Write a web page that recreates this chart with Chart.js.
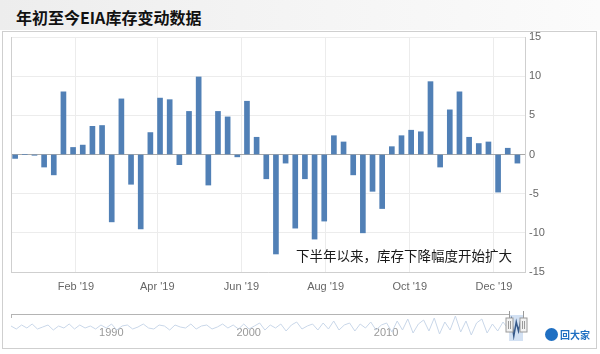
<!DOCTYPE html>
<html>
<head>
<meta charset="utf-8">
<script src="https://cdn.jsdelivr.net/npm/chart.js@4"></script>
<style>
    body { margin: 0; width: 600px; height: 354px; background: #fff; position: relative; overflow: hidden; }
    #header {
        position: absolute; left: 0; top: 0; width: 600px; height: 30px;
        background: linear-gradient(to right, #ededed 0%, #f3f3f3 40%, #fbfbfb 100%);
    }
    #header span {
        position: absolute; left: 16px; top: 5px;
        font: bold 16px "Noto Sans CJK SC", sans-serif; color: #111;
    }
    #frame {
        position: absolute; left: 2px; top: 31px; width: 595px; height: 318px;
        border: 1px solid #cfcfcf; box-sizing: border-box;
    }
    #main { position: absolute; left: 0; top: 0; }
    #nav { position: absolute; left: 0; top: 305px; }
    #logo { position: absolute; left: 545px; top: 327px; width: 48px; height: 16px; white-space: nowrap; }
    #logo .dot { position: absolute; left: 0; top: 1px; width: 13px; height: 13px; border-radius: 50%; background: #1f6fc2; }
    #logo .txt { position: absolute; left: 15px; top: 0; font: bold 10px "Noto Sans CJK SC", sans-serif; color: #1f6fc2; }
</style>
</head>
<body>
<div id="header"><span>年初至今EIA库存变动数据</span></div>
<div id="frame"></div>
<canvas id="main" width="600" height="300"></canvas>
<canvas id="nav" width="600" height="45"></canvas>
<div id="logo"><div class="dot"></div><div class="txt">回大家</div></div>
<script>
// ===================== DADOS =====================
const weekDates = [
    "2018-12-19", "2018-12-26", "2019-01-02", "2019-01-09", "2019-01-16", "2019-01-23", "2019-01-30",
    "2019-02-06", "2019-02-13", "2019-02-20", "2019-02-27", "2019-03-06", "2019-03-13", "2019-03-20",
    "2019-03-27", "2019-04-03", "2019-04-10", "2019-04-17", "2019-04-24", "2019-05-01", "2019-05-08",
    "2019-05-15", "2019-05-22", "2019-05-29", "2019-06-05", "2019-06-12", "2019-06-19", "2019-06-26",
    "2019-07-03", "2019-07-10", "2019-07-17", "2019-07-24", "2019-07-31", "2019-08-07", "2019-08-14",
    "2019-08-21", "2019-08-28", "2019-09-04", "2019-09-11", "2019-09-18", "2019-09-25", "2019-10-02",
    "2019-10-09", "2019-10-16", "2019-10-23", "2019-10-30", "2019-11-06", "2019-11-13", "2019-11-20",
    "2019-11-27", "2019-12-04", "2019-12-11", "2019-12-18"
];
const stockChange = [
    -0.5, 0, -0.1, -1.6, -2.6, 8.0, 0.9,
    1.2, 3.6, 3.7, -8.6, 7.1, -3.8, -9.5,
    2.8, 7.2, 7.0, -1.3, 5.5, 9.9, -3.9,
    5.5, 4.8, -0.3, 6.8, 2.2, -3.1, -12.7,
    -1.1, -9.4, -3.1, -10.8, -8.5, 2.4, 1.6,
    -2.6, -10.0, -4.7, -6.9, 1.0, 2.4, 3.1,
    2.9, 9.3, -1.6, 5.7, 8.0, 2.2, 1.4,
    1.6, -4.8, 0.8, -1.1
];
const tickDates = ["2019-02-01", "2019-04-01", "2019-06-01", "2019-08-01", "2019-10-01", "2019-12-01"];
const tickLabels = ["Feb '19", "Apr '19", "Jun '19", "Aug '19", "Oct '19", "Dec '19"];
const yTicks = [-15, -10, -5, 0, 5, 10, 15];
const note = "下半年以来，库存下降幅度开始扩大";

// navegador (histórico resumido)
const navStart = 1982.7;
const navEnd = 2018.9;
const navHistory = [
    1, -2, 2, -1, 3, -2, 0, 2, -3, 1, -1, 3, -2, 2, -1, 1, -2,
    2, -1, 3, -3, 1, 2, -2, 0, 3, -1, -2, 2, 1, -3, 2, 0, -1, 3, -2, 1, 2, -2, 0, 3, -1, 2, -2,
    3, -2, 1, 4, -3, 2, -1, 3, -4, 2, 5, -2, 1, 3, -3, 4, -2, 6, -3, 2, 4, -4, 3, -1, 5, -3, 2,
    4, -5, 6, -3, 8, -6, 3, 7, -4, 9, -7, 5, -3, 11, -5, 6, -8, 4, 8, -6, 3, -4, 5, -2
];
const navWindowYears = [2018.96, 2019.12, 2019.3, 2019.48, 2019.64, 2019.8, 2019.97];
const navWindowValues = [1, 8, -9, 5, -4, 6, 0];
const navYears = [1990, 2000, 2010];
const navRange = [2018.96, 2019.97];

// ===================== GRÁFICO PRINCIPAL =====================
Chart.defaults.font.family = "'Liberation Sans', Arial, sans-serif";
Chart.defaults.font.size = 11;
Chart.defaults.color = "#666";

const dia = d => (Date.parse(d) - Date.parse("2019-01-01")) / 86400000;

const plotFrame = {
    id: "plotFrame",
    beforeDatasetsDraw(chart) {
        const a = chart.chartArea, ctx = chart.ctx;
        ctx.save();
        ctx.strokeStyle = "#cfcfcf";
        ctx.lineWidth = 1;
        ctx.beginPath();
        ctx.moveTo(a.left + 0.5, a.top);
        ctx.lineTo(a.left + 0.5, a.bottom);
        ctx.stroke();
        ctx.restore();
    },
    afterDraw(chart) {
        const a = chart.chartArea, ctx = chart.ctx;
        ctx.save();
        ctx.font = "13.5px 'Noto Sans CJK SC', sans-serif";
        ctx.fillStyle = "#1a1a1a";
        ctx.textBaseline = "middle";
        ctx.textAlign = "right";
        ctx.fillText(note, a.right - 13, a.bottom - 16);
        ctx.restore();
    }
};

new Chart(document.getElementById("main").getContext("2d"), {
    type: "bar",
    data: {
        datasets: [{
            data: weekDates.map((d, i) => ({ x: dia(d), y: stockChange[i] })),
            backgroundColor: "#5180b6",
            barThickness: 5,
            borderWidth: 0
        }]
    },
    options: {
        responsive: false,
        animation: false,
        events: [],
        layout: { padding: { left: 11, top: 37, right: 45, bottom: 0 } },
        plugins: { legend: { display: false }, tooltip: { enabled: false } },
        scales: {
            x: {
                type: "linear",
                offset: false,
                min: -16,
                max: 356.5,
                afterBuildTicks: s => { s.ticks = tickDates.map(d => ({ value: dia(d) })); },
                afterFit: s => { s.height = 28; },
                grid: { color: "#ececec", offset: false, drawTicks: false },
                border: { color: "#cfcfcf" },
                ticks: {
                    padding: 8,
                    maxRotation: 0,
                    callback: (v) => tickLabels[tickDates.findIndex(d => dia(d) === v)]
                }
            },
            y: {
                position: "right",
                min: -15,
                max: 15,
                afterBuildTicks: s => { s.ticks = yTicks.map(v => ({ value: v })); },
                afterFit: s => { s.width = 30; },
                grid: {
                    color: c => c.tick && c.tick.value === 0 ? "#a8a8a8" : "#ececec",
                    drawTicks: false
                },
                border: { color: "#cfcfcf" },
                ticks: { padding: 4, callback: v => String(v) }
            }
        }
    },
    plugins: [plotFrame]
});

// ===================== NAVEGADOR =====================
const navStep = (navEnd - navStart) / (navHistory.length - 1);

const navDecor = {
    id: "navDecor",
    beforeDatasetsDraw(chart) {
        const a = chart.chartArea, ctx = chart.ctx, x = chart.scales.x;
        const l = x.getPixelForValue(navRange[0]), r = x.getPixelForValue(navRange[1]);
        ctx.save();
        ctx.fillStyle = "rgba(130,170,220,0.35)";
        ctx.fillRect(l, a.top + 1, r - l, a.bottom - a.top);
        ctx.strokeStyle = "#b4b4b4";
        ctx.lineWidth = 1;
        ctx.beginPath();
        ctx.moveTo(a.left, a.top + 0.5);
        ctx.lineTo(l, a.top + 0.5);
        ctx.moveTo(a.left + 0.5, a.top);
        ctx.lineTo(a.left + 0.5, a.top + 4);
        ctx.stroke();
        ctx.fillStyle = "#999";
        ctx.font = "11px 'Liberation Sans', Arial, sans-serif";
        ctx.textAlign = "center";
        ctx.textBaseline = "middle";
        navYears.forEach(y => ctx.fillText(String(y), x.getPixelForValue(y), a.top + 19));
        ctx.restore();
    },
    afterDraw(chart) {
        const a = chart.chartArea, ctx = chart.ctx, x = chart.scales.x;
        ctx.save();
        navRange.forEach(v => {
            const px = Math.round(x.getPixelForValue(v)) + 0.5;
            ctx.strokeStyle = "#9a9a9a";
            ctx.beginPath();
            ctx.moveTo(px, a.top - 3);
            ctx.lineTo(px, a.top + 4);
            ctx.stroke();
            ctx.fillStyle = "#f2f2f2";
            ctx.fillRect(px - 3.5, a.top + 4, 7, 14);
            ctx.strokeRect(px - 3.5, a.top + 4, 7, 14);
            ctx.beginPath();
            ctx.moveTo(px - 1, a.top + 7); ctx.lineTo(px - 1, a.top + 15);
            ctx.moveTo(px + 1, a.top + 7); ctx.lineTo(px + 1, a.top + 15);
            ctx.stroke();
        });
        ctx.restore();
    }
};

new Chart(document.getElementById("nav").getContext("2d"), {
    type: "line",
    data: {
        datasets: [
            {
                data: navHistory.map((v, i) => ({ x: navStart + i * navStep, y: v })),
                borderColor: "#c9d7e9",
                borderWidth: 1,
                pointRadius: 0,
                tension: 0
            },
            {
                data: navWindowYears.map((y, i) => ({ x: y, y: navWindowValues[i] })),
                borderColor: "#36598a",
                borderWidth: 1.5,
                pointRadius: 0,
                tension: 0
            }
        ]
    },
    options: {
        responsive: false,
        animation: false,
        events: [],
        layout: { padding: { left: 11, right: 77, top: 9, bottom: 10 } },
        plugins: { legend: { display: false }, tooltip: { enabled: false } },
        scales: {
            x: { type: "linear", min: navStart, max: 2019.97, display: false },
            y: { min: -13, max: 13, display: false }
        }
    },
    plugins: [navDecor]
});
</script>
</body>
</html>
